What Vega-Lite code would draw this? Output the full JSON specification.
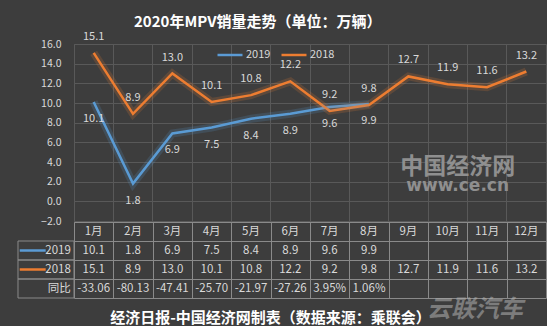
{
  "$schema": "https://vega.github.io/schema/vega-lite/v6.json",
  "background": "#3d3d3d",
  "padding": {"left": 16, "top": 15, "right": 0, "bottom": 0},
  "bounds": "flush",
  "config": {"font": "Noto Sans CJK SC", "view": {"stroke": null}},
  "title": {"text": "2020年MPV销量走势（单位：万辆）", "fontSize": 15, "fontWeight": "bold", "color": "#ffffff", "anchor": "middle", "dx": -24, "offset": 0},
  "datasets": {
    "sales": [
      {"month": "1月", "m": 1, "series": "2019", "value": 10.1},
      {"month": "2月", "m": 2, "series": "2019", "value": 1.8},
      {"month": "3月", "m": 3, "series": "2019", "value": 6.9},
      {"month": "4月", "m": 4, "series": "2019", "value": 7.5},
      {"month": "5月", "m": 5, "series": "2019", "value": 8.4},
      {"month": "6月", "m": 6, "series": "2019", "value": 8.9},
      {"month": "7月", "m": 7, "series": "2019", "value": 9.6},
      {"month": "8月", "m": 8, "series": "2019", "value": 9.9},
      {"month": "1月", "m": 1, "series": "2018", "value": 15.1},
      {"month": "2月", "m": 2, "series": "2018", "value": 8.9},
      {"month": "3月", "m": 3, "series": "2018", "value": 13.0},
      {"month": "4月", "m": 4, "series": "2018", "value": 10.1},
      {"month": "5月", "m": 5, "series": "2018", "value": 10.8},
      {"month": "6月", "m": 6, "series": "2018", "value": 12.2},
      {"month": "7月", "m": 7, "series": "2018", "value": 9.2},
      {"month": "8月", "m": 8, "series": "2018", "value": 9.8},
      {"month": "9月", "m": 9, "series": "2018", "value": 12.7},
      {"month": "10月", "m": 10, "series": "2018", "value": 11.9},
      {"month": "11月", "m": 11, "series": "2018", "value": 11.6},
      {"month": "12月", "m": 12, "series": "2018", "value": 13.2}
    ],
    "yoy": [
      {"month": "1月", "m": 1, "yoy": "-33.06"},
      {"month": "2月", "m": 2, "yoy": "-80.13"},
      {"month": "3月", "m": 3, "yoy": "-47.41"},
      {"month": "4月", "m": 4, "yoy": "-25.70"},
      {"month": "5月", "m": 5, "yoy": "-21.97"},
      {"month": "6月", "m": 6, "yoy": "-27.26"},
      {"month": "7月", "m": 7, "yoy": "3.95%"},
      {"month": "8月", "m": 8, "yoy": "1.06%"}
    ],
    "rows": [
      {"series": "2019"},
      {"series": "2018"},
      {"series": "同比"}
    ]
  },
  "spacing": 1,
  "vconcat": [
    {
      "width": 472,
      "height": 177,
      "view": {"stroke": "#595959"},
      "data": {"name": "sales"},
      "layer": [
        {
          "mark": {"type": "line", "strokeWidth": 2.5},
          "encoding": {
            "x": {
              "field": "month", "type": "nominal", "bandPosition": 0.5,
              "scale": {"type": "band", "domain": ["1月","2月","3月","4月","5月","6月","7月","8月","9月","10月","11月","12月"], "paddingInner": 0, "paddingOuter": 0},
              "axis": {"grid": true, "gridColor": "#595959", "bandPosition": 0, "labels": false, "ticks": false, "domain": false, "title": null}
            },
            "y": {
              "field": "value", "type": "quantitative",
              "scale": {"domain": [-2, 16], "nice": false, "zero": false},
              "axis": {"values": [-2, 0, 2, 4, 6, 8, 10, 12, 14, 16], "tickCount": 12, "format": ".1f", "grid": true, "gridColor": "#595959", "ticks": false, "domain": false, "labelColor": "#d9d9d9", "labelFontSize": 10.5, "labelPadding": 13, "labelOverlap": false, "title": null}
            },
            "color": {
              "field": "series", "type": "nominal",
              "scale": {"domain": ["2019", "2018"], "range": ["#5b9bd5", "#ed7d31"]},
              "legend": {"orient": "none", "legendX": 142, "legendY": -3, "direction": "horizontal", "title": null, "symbolType": "stroke", "symbolStrokeWidth": 2.5, "symbolSize": 625, "symbolOpacity": 1, "labelColor": "#d9d9d9", "labelFontSize": 11, "columnPadding": 5, "labelOffset": 2}
            }
          }
        },
        {
          "transform": [{"filter": "datum.series == '2019'"}],
          "mark": {"type": "line", "strokeWidth": 8, "strokeOpacity": 0.18, "stroke": "#5b9bd5"},
          "encoding": {
            "x": {"field": "month", "type": "nominal", "bandPosition": 0.5},
            "y": {"field": "value", "type": "quantitative"}
          }
        },
        {
          "transform": [{"filter": "datum.series == '2018'"}],
          "mark": {"type": "line", "strokeWidth": 8, "strokeOpacity": 0.18, "stroke": "#ed7d31"},
          "encoding": {
            "x": {"field": "month", "type": "nominal", "bandPosition": 0.5},
            "y": {"field": "value", "type": "quantitative"}
          }
        },
        {
          "transform": [{"filter": "datum.series == '2018'"}],
          "mark": {"type": "text", "dy": -16, "fontSize": 11, "color": "#d9d9d9"},
          "encoding": {
            "x": {"field": "month", "type": "nominal", "bandPosition": 0.5},
            "y": {"field": "value", "type": "quantitative"},
            "text": {"field": "value", "format": ".1f"}
          }
        },
        {
          "transform": [{"filter": "datum.series == '2019'"}],
          "mark": {"type": "text", "dy": 17, "fontSize": 11, "color": "#d9d9d9"},
          "encoding": {
            "x": {"field": "month", "type": "nominal", "bandPosition": 0.5},
            "y": {"field": "value", "type": "quantitative"},
            "text": {"field": "value", "format": ".1f"}
          }
        },
        {
          "data": {"values": [{"t": "中国经济网"}]},
          "mark": {"type": "text", "dx": 10, "fontSize": 23, "fontWeight": "bold", "color": "#8f8f8f"},
          "encoding": {
            "x": {"datum": "10月", "type": "nominal", "bandPosition": 0.5},
            "y": {"datum": 3.5, "type": "quantitative"},
            "text": {"field": "t"}
          }
        },
        {
          "data": {"values": [{"t": "www.ce.cn"}]},
          "mark": {"type": "text", "dx": 10, "fontSize": 17, "fontWeight": "bold", "font": "DejaVu Sans", "color": "#8f8f8f"},
          "encoding": {
            "x": {"datum": "10月", "type": "nominal", "bandPosition": 0.5},
            "y": {"datum": 1.6, "type": "quantitative"},
            "text": {"field": "t"}
          }
        }
      ]
    },
    {
      "width": 472,
      "height": 76,
      "view": {"stroke": "#8a8a8a"},
      "layer": [
        {
          "data": {"name": "rows"},
          "mark": {"type": "rect", "fill": "#3d3d3d", "fillOpacity": 0, "stroke": "#8a8a8a", "strokeWidth": 1},
          "encoding": {
            "x": {"datum": -0.924, "type": "quantitative"},
            "x2": {"datum": 0.5},
            "y": {
              "field": "series", "type": "nominal",
              "scale": {"domain": ["header", "2019", "2018", "同比"], "paddingInner": 0, "paddingOuter": 0},
              "axis": {"grid": true, "gridColor": "#8a8a8a", "bandPosition": 0, "labels": false, "ticks": false, "domain": false, "title": null, "minExtent": 56, "maxExtent": 56}
            }
          }
        },
        {
          "data": {"name": "rows"},
          "mark": {"type": "text", "align": "right", "fontSize": 11.5, "color": "#d9d9d9"},
          "encoding": {
            "x": {"datum": 0.42, "type": "quantitative"},
            "y": {"field": "series", "type": "nominal", "bandPosition": 0.5},
            "text": {"field": "series"}
          }
        },
        {
          "data": {"name": "rows"},
          "transform": [{"filter": "datum.series == '2019'"}],
          "mark": {"type": "rule", "color": "#5b9bd5", "strokeWidth": 2.5},
          "encoding": {
            "x": {"datum": -0.88, "type": "quantitative"},
            "x2": {"datum": -0.22},
            "y": {"field": "series", "type": "nominal", "bandPosition": 0.5}
          }
        },
        {
          "data": {"name": "rows"},
          "transform": [{"filter": "datum.series == '2018'"}],
          "mark": {"type": "rule", "color": "#ed7d31", "strokeWidth": 2.5},
          "encoding": {
            "x": {"datum": -0.88, "type": "quantitative"},
            "x2": {"datum": -0.22},
            "y": {"field": "series", "type": "nominal", "bandPosition": 0.5}
          }
        },
        {
          "data": {"name": "sales"},
          "mark": {"type": "text", "fontSize": 11.5, "color": "#d9d9d9"},
          "encoding": {
            "x": {
              "field": "m", "type": "quantitative",
              "scale": {"domain": [0.5, 12.5], "nice": false, "zero": false},
              "axis": {"grid": true, "values": [1.5, 2.5, 3.5, 4.5, 5.5, 6.5, 7.5, 8.5, 9.5, 10.5, 11.5], "tickCount": 14, "gridColor": "#8a8a8a", "labels": false, "ticks": false, "domain": false, "title": "经济日报-中国经济网制表（数据来源：乘联会）", "titleColor": "#ffffff", "titleFontSize": 15, "titleFontWeight": "bold", "titleX": 196, "titleY": 19, "titleBaseline": "middle", "titleAlign": "center"}
            },
            "y": {"field": "series", "type": "nominal", "bandPosition": 0.5},
            "text": {"field": "value", "format": ".1f"}
          }
        },
        {
          "data": {"name": "sales"},
          "transform": [{"filter": "datum.series == '2018'"}],
          "mark": {"type": "text", "fontSize": 11.5, "color": "#d9d9d9"},
          "encoding": {
            "x": {"field": "m", "type": "quantitative"},
            "y": {"datum": "header", "type": "nominal", "bandPosition": 0.5},
            "text": {"field": "month"}
          }
        },
        {
          "data": {"name": "yoy"},
          "mark": {"type": "text", "fontSize": 11.5, "color": "#d9d9d9"},
          "encoding": {
            "x": {"field": "m", "type": "quantitative"},
            "y": {"datum": "同比", "type": "nominal", "bandPosition": 0.5},
            "text": {"field": "yoy"}
          }
        },
        {
          "data": {"values": [{"t": "云联汽车"}]},
          "mark": {"type": "text", "fontSize": 24, "fontWeight": "bold", "fontStyle": "italic", "dy": 21, "dx": -12, "opacity": 0.55, "color": "#b0b0b0"},
          "encoding": {
            "x": {"datum": 11, "type": "quantitative"},
            "y": {"datum": "同比", "type": "nominal", "bandPosition": 0.5},
            "text": {"field": "t"}
          }
        }
      ]
    }
  ]
}
